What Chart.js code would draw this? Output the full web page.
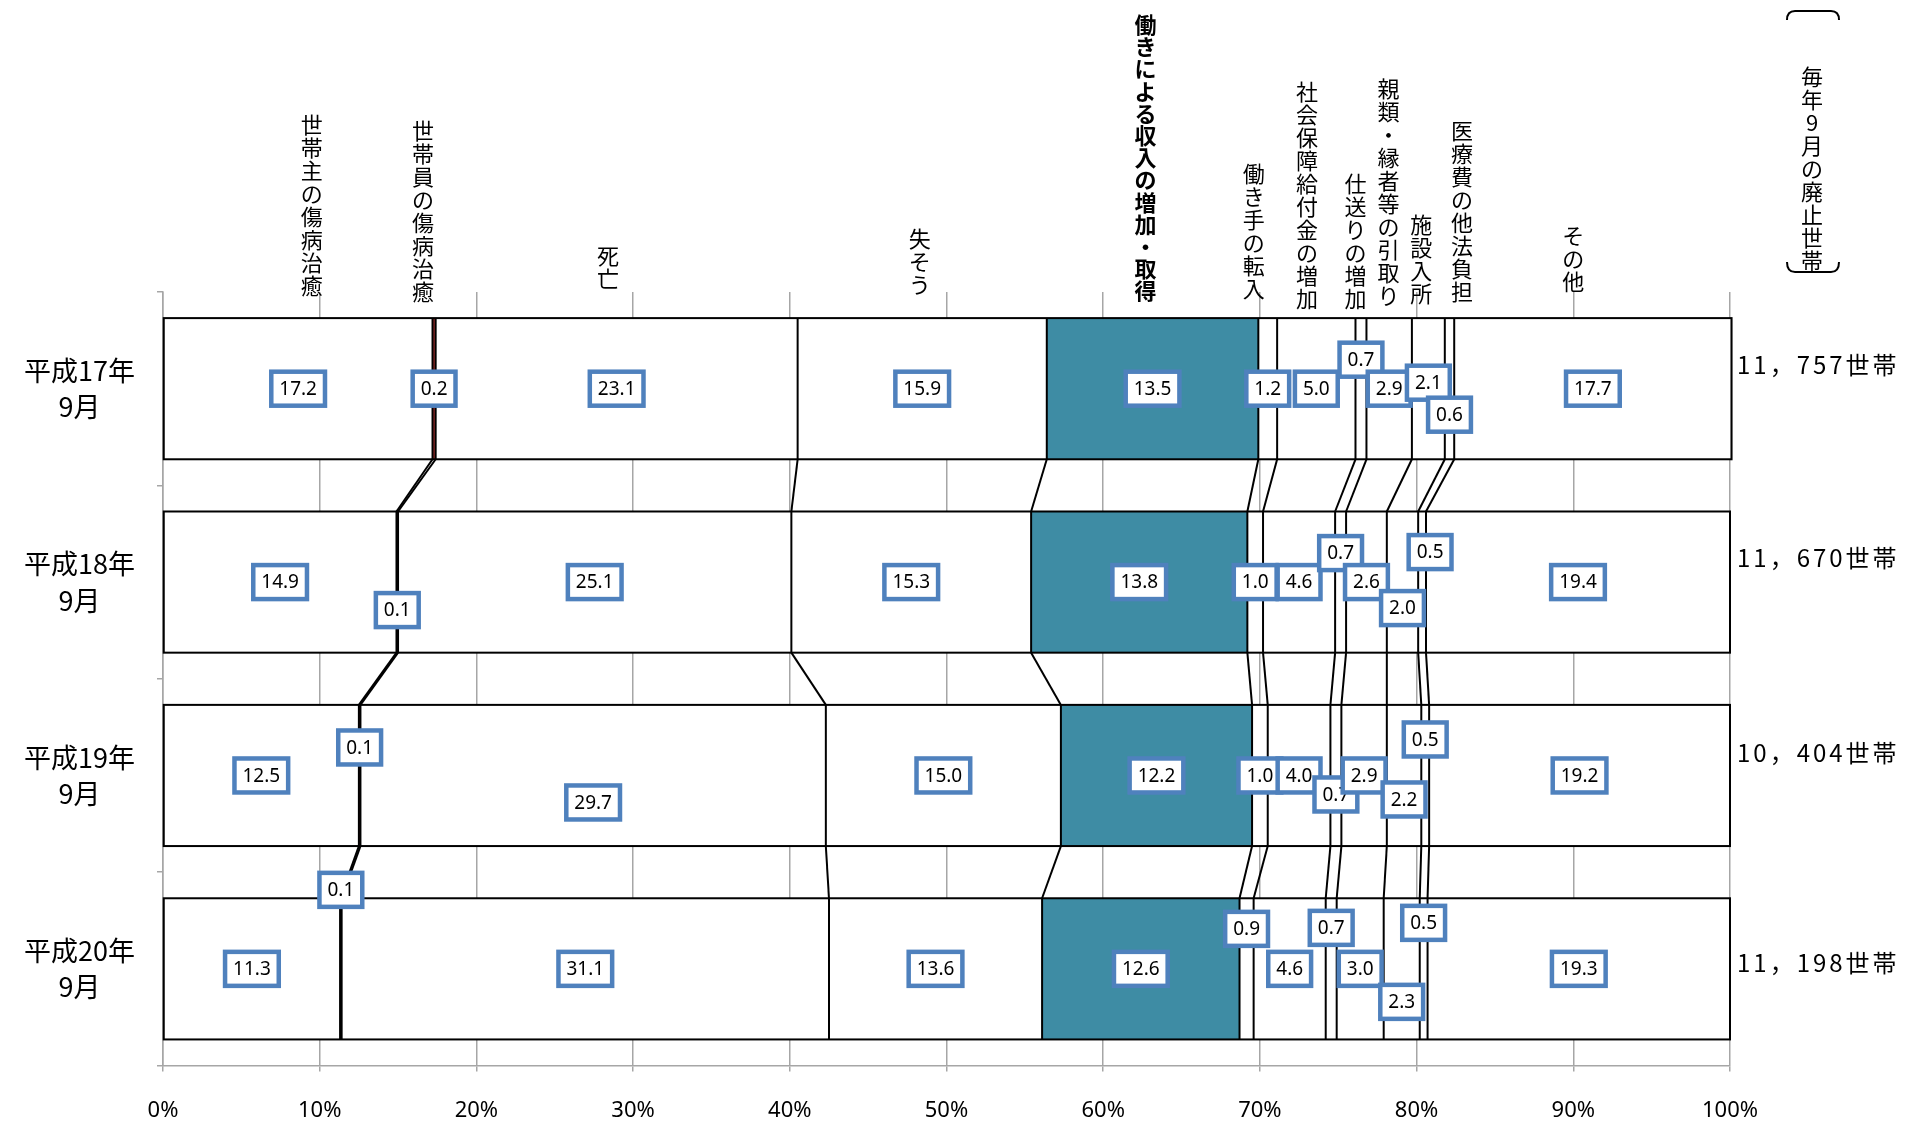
<!DOCTYPE html>
<html lang="ja">
<head>
<meta charset="utf-8">
<title>廃止世帯の理由別構成比</title>
<script src="https://cdn.jsdelivr.net/npm/chart.js@4.4.1/dist/chart.umd.min.js"></script>
<style>
  html, body { margin: 0; padding: 0; background: #fff; }
  #wrap { width: 1905px; height: 1124px; }
</style>
</head>
<body>
<div id="wrap"><canvas id="grafico"></canvas></div>
<script>
// 行（各年9月）
const periodos = [['平成17年', '9月'], ['平成18年', '9月'], ['平成19年', '9月'], ['平成20年', '9月']];
const hogares = ['11，757世帯', '11，670世帯', '10，404世帯', '11，198世帯'];

// 廃止理由
const razones = [
  '世帯主の傷病治癒', '世帯員の傷病治癒', '死亡', '失そう', '働きによる収入の増加・取得',
  '働き手の転入', '社会保障給付金の増加', '仕送りの増加', '親類・縁者等の引取り',
  '施設入所', '医療費の他法負担', 'その他'
];

// 構成比 (%) 行の順: H17, H18, H19, H20
const setainushiChiyu = [17.2, 14.9, 12.5, 11.3];
const setaiinChiyu    = [0.2, 0.1, 0.1, 0.1];
const shibo           = [23.1, 25.1, 29.7, 31.1];
const shisso          = [15.9, 15.3, 15.0, 13.6];
const hatarakiShunyu  = [13.5, 13.8, 12.2, 12.6];
const hatarakiteTennyu = [1.2, 1.0, 1.0, 0.9];
const shakaiHosho     = [5.0, 4.6, 4.0, 4.6];
const shiokuri        = [0.7, 0.7, 0.7, 0.7];
const shinrui         = [2.9, 2.6, 2.9, 3.0];
const shisetsu        = [2.1, 2.0, 2.2, 2.3];
const iryohi          = [0.6, 0.5, 0.5, 0.5];
const sonota          = [17.7, 19.4, 19.2, 19.3];

const valores = [setainushiChiyu, setaiinChiyu, shibo, shisso, hatarakiShunyu, hatarakiteTennyu,
  shakaiHosho, shiokuri, shinrui, shisetsu, iryohi, sonota];

// 目盛り (%)
const ticksX = [0, 10, 20, 30, 40, 50, 60, 70, 80, 90, 100];

// ---- 以下は配置・スタイル ----
const colores = ['#ffffff', '#A0302E', '#ffffff', '#ffffff', '#3E8CA4', '#ffffff',
  '#ffffff', '#ffffff', '#ffffff', '#ffffff', '#ffffff', '#ffffff'];

// 見出しの位置 (x は %, 下端は px)
const cabeceraX = [9.5, 16.6, 28.4, 48.3, 62.7, 69.6, 73.0, 76.1, 78.2, 80.3, 82.9, 90.0];
const cabeceraAbajo = [297, 303, 290, 296, 302, 300, 310, 310, 307, 305, 303, 293];

// データラベルのずらし量 (px)
const etiquetaDY = [
  [0, 0, 0, 0, 0, 0, 0, -29, 0, -6, 26, 0],
  [0, 28, 0, 0, 0, 0, 0, -29, 0, 26, -30, 0],
  [0, -28, 27, 0, 0, 0, 0, 19, 0, 24, -36, 0],
  [0, -79, 0, 0, 0, -40, 0, -41, 0, 33, -46, 0]
];
const etiquetaDX = [
  [0, 0, 0, 0, 0, 0, 0, 0, 0, 0, 0, 0],
  [0, 0, 0, 0, 0, 0, 0, 0, 0, 0, 8, 0],
  [0, 0, 0, 0, 0, 0, 0, 0, 0, 0, 0, 0],
  [0, 0, 0, 0, 0, 0, 0, 0, 0, 0, 0, 0]
];
const hogarDY = [-24, -24, -23, -6];

const FUENTE_JP = "'Noto Sans CJK JP', 'Noto Sans', sans-serif";

function textoVertical(ctx, texto, x, abajo, paso) {
  const chars = Array.from(texto);
  const n = chars.length;
  chars.forEach((c, i) => {
    const yc = abajo - 11 - (n - 1 - i) * paso;
    ctx.fillText(c, x, yc);
  });
}

// 区分線・外枠・ラベル・見出しを描く
const extras = {
  id: 'extras',
  afterDatasetsDraw(chart) {
    const ctx = chart.ctx;
    const xs = chart.scales.x;
    const ys = chart.scales.y;
    const metas = valores.map((_, k) => chart.getDatasetMeta(k));
    const nFilas = periodos.length;

    ctx.save();
    ctx.strokeStyle = '#000';
    ctx.lineWidth = 2;
    for (let i = 0; i < nFilas; i++) {
      // 各区分の境界線
      for (let k = 0; k < valores.length - 1; k++) {
        const a = metas[k].data[i].getProps(['x', 'y', 'height'], true);
        ctx.beginPath();
        ctx.moveTo(a.x, a.y - a.height / 2);
        ctx.lineTo(a.x, a.y + a.height / 2);
        ctx.stroke();
        // 次の行への区分線
        if (i < nFilas - 1) {
          const b = metas[k].data[i + 1].getProps(['x', 'y', 'height'], true);
          ctx.beginPath();
          ctx.moveTo(a.x, a.y + a.height / 2);
          ctx.lineTo(b.x, b.y - b.height / 2);
          ctx.stroke();
        }
      }
      // 外枠
      const first = metas[0].data[i].getProps(['base', 'y', 'height'], true);
      const last = metas[valores.length - 1].data[i].getProps(['x'], true);
      ctx.strokeRect(first.base, first.y - first.height / 2, last.x - first.base, first.height);
    }

    // データラベル
    ctx.font = "19px 'Noto Sans', sans-serif";
    ctx.textAlign = 'center';
    ctx.textBaseline = 'middle';
    for (let k = 0; k < valores.length; k++) {
      for (let i = 0; i < nFilas; i++) {
        const el = metas[k].data[i].getProps(['x', 'base', 'y'], true);
        const cx = (el.x + el.base) / 2 + etiquetaDX[i][k];
        const cy = el.y + etiquetaDY[i][k];
        const txt = valores[k][i].toFixed(1);
        const w = ctx.measureText(txt).width + 16;
        const h = 34;
        ctx.fillStyle = '#fff';
        ctx.fillRect(cx - w / 2, cy - h / 2, w, h);
        ctx.strokeStyle = '#4F81BD';
        ctx.lineWidth = 4.5;
        ctx.strokeRect(cx - w / 2, cy - h / 2, w, h);
        ctx.fillStyle = '#000';
        ctx.fillText(txt, cx, cy + 1);
      }
    }

    // 世帯数
    ctx.font = '24px ' + FUENTE_JP;
    ctx.textAlign = 'left';
    ctx.letterSpacing = '3px';
    hogares.forEach((t, i) => {
      ctx.fillText(t, xs.right + 7, ys.getPixelForValue(i) + hogarDY[i]);
    });
    ctx.letterSpacing = '0px';

    // 見出し（縦書き）
    ctx.textAlign = 'center';
    razones.forEach((r, k) => {
      const negrita = k === 4;
      ctx.font = (negrita ? 'bold ' : '') + '22px ' + FUENTE_JP;
      textoVertical(ctx, r, xs.getPixelForValue(cabeceraX[k]), cabeceraAbajo[k], negrita ? 22.2 : 23);
    });

    // 毎年9月の廃止世帯（括弧つき）
    ctx.font = '22px ' + FUENTE_JP;
    textoVertical(ctx, '毎年9月の廃止世帯', 1812, 272, 23);
    ctx.strokeStyle = '#000';
    ctx.lineWidth = 2;
    ctx.beginPath();
    ctx.moveTo(1787, 20);
    ctx.quadraticCurveTo(1787, 11, 1795, 11);
    ctx.lineTo(1831, 11);
    ctx.quadraticCurveTo(1839, 11, 1839, 20);
    ctx.stroke();
    ctx.beginPath();
    ctx.moveTo(1787, 262);
    ctx.quadraticCurveTo(1787, 272, 1795, 272);
    ctx.lineTo(1831, 272);
    ctx.quadraticCurveTo(1839, 272, 1839, 262);
    ctx.stroke();
    ctx.restore();
  }
};

window.onload = () => {
  const ctx = document.getElementById('grafico').getContext('2d');
  new Chart(ctx, {
    type: 'bar',
    data: {
      labels: periodos,
      datasets: valores.map((v, k) => ({
        label: razones[k],
        data: v,
        backgroundColor: colores[k],
        borderWidth: 0,
        inflateAmount: 0,
        barPercentage: 0.73,
        categoryPercentage: 1
      }))
    },
    options: {
      indexAxis: 'y',
      responsive: true,
      maintainAspectRatio: false,
      animation: false,
      layout: { padding: { top: 292, right: 175, bottom: 0, left: 0 } },
      plugins: {
        legend: { display: false },
        tooltip: { enabled: false }
      },
      scales: {
        x: {
          stacked: true,
          min: 0,
          max: 100,
          afterBuildTicks: s => { s.ticks = ticksX.map(v => ({ value: v })); },
          afterFit: s => { s.height = 53; },
          ticks: {
            callback: v => v + '%',
            color: '#000',
            padding: 26,
            font: { family: "'Noto Sans', sans-serif", size: 22 }
          },
          grid: { color: '#A6A6A6', lineWidth: 1.5, tickLength: 6 },
          border: { color: '#A6A6A6', width: 1.5 }
        },
        y: {
          stacked: true,
          afterFit: s => { s.width = 163; },
          ticks: {
            color: '#000',
            crossAlign: 'center',
            padding: 22,
            font: { family: FUENTE_JP, size: 27, lineHeight: 1.35 }
          },
          grid: { offset: true, drawOnChartArea: false, color: '#A6A6A6', lineWidth: 1.5, tickLength: 6 },
          border: { color: '#A6A6A6', width: 1.5 }
        }
      }
    },
    plugins: [extras]
  });
};
</script>
</body>
</html>
